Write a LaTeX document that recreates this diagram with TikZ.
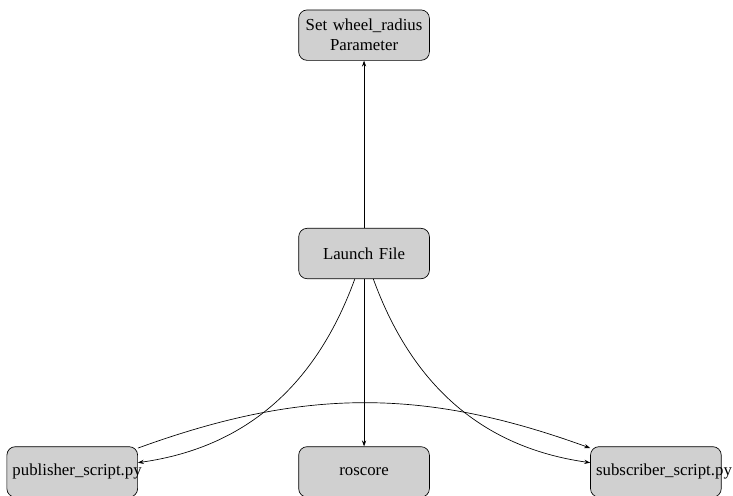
\documentclass[tikz,border=0pt]{standalone}
\usepackage{fontspec}
\setmainfont{Liberation Serif}
\usepackage{tikz}
\usetikzlibrary{arrows.meta, positioning}
\definecolor{boxgray}{RGB}{208,208,208}

\begin{document}
\begin{tikzpicture}[
  box/.style={rectangle, draw=black, fill=boxgray, rounded corners=5pt, align=center,
              text width=2.5cm, minimum height=30pt},
  arrow/.style={-{Stealth[length=3.5pt, width=2.5pt]}},
  node distance=3.5cm
]
\useasboundingbox (-216.7pt,-143.75pt) rectangle (219.6pt,150.9pt);
\node[box] (launch) at (0,0) {Launch File};
\node[box, above=of launch] (param) {Set wheel\_radius\\Parameter};
\node[box, below=of launch] (roscore) {roscore};
\node[box, left=95.5pt of roscore] (pub) {publisher\_script.py};
\node[box, right=95.5pt of roscore] (sub) {subscriber\_script.py};
\draw[arrow] (launch) -- (param);
\draw[arrow] (launch) -- (roscore);
\draw[arrow] (launch) to[out=-110, in=8] (pub);
\draw[arrow] (launch) to[out=-70, in=172] (sub);
\draw[arrow] (pub) to[bend left=20] (sub);
\end{tikzpicture}
\end{document}
